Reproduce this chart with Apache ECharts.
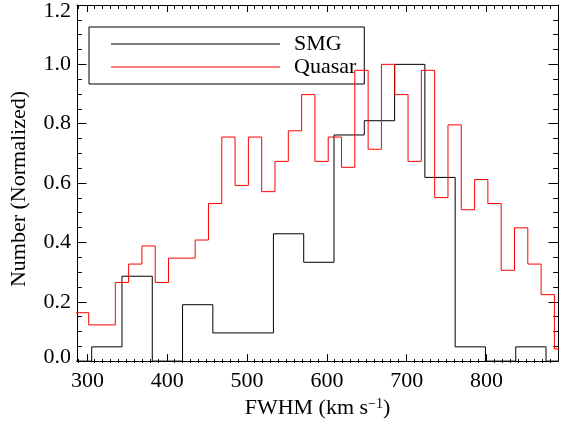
<!DOCTYPE html>
<html>
<head>
<meta charset="utf-8">
<script src="https://cdn.jsdelivr.net/npm/echarts@6/dist/echarts.min.js"></script>
<style>html,body{margin:0;padding:0;background:#fff;}#c{width:561px;height:424px;}</style>
</head>
<body>
<div id="c"></div>
<script>
// ---- data ----
const xMin = 287, xMax = 889.5;
const yMin = 0, yMax = 1.2, yStep = 0.2;
const xMajorTicks = [300, 400, 500, 600, 700, 800];
const xTitle = 'FWHM (km s{sup|\u22121})';
const yTitle = 'Number (Normalized)';
const seriesNames = ['SMG', 'Quasar'];

// SMG histogram: first bin left edge, bin width, normalized counts
const smgEdgeStart = 267.46;
const smgBinWidth = 37.94;
const smgValues = [0, 0.048, 0.286, 0, 0.19, 0.095, 0.095, 0.429, 0.333, 0.762, 0.81, 1.0, 0.619, 0.048, 0, 0.048, 0];

// Quasar histogram
const qsoEdgeStart = 285.0;
const qsoBinWidth = 16.667;
const qsoValues = [0.163, 0.122, 0.122, 0.265, 0.327, 0.388, 0.265, 0.347, 0.347, 0.408, 0.531, 0.755, 0.592, 0.755, 0.571, 0.673, 0.776, 0.898, 0.673, 0.755, 0.653, 0.98, 0.714, 1.0, 0.898, 0.673, 0.98, 0.551, 0.796, 0.51, 0.612, 0.531, 0.306, 0.449, 0.327, 0.224, 0.041];

// minor x ticks every 10 (not on majors)
const xMinorTicks = [];
for (let v = Math.ceil(xMin / 10) * 10; v <= xMax; v += 10) {
  if (v % 100 !== 0) xMinorTicks.push(v);
}

function stepData(start, width, values) {
  const pts = values.map((v, i) => [start + i * width, v]);
  pts.push([start + values.length * width, values[values.length - 1]]);
  return pts;
}

const FONT = 'Liberation Serif';
const black = '#000';
const gridRect = {left: 76, top: 5, width: 482, height: 358};

const chart = echarts.init(document.getElementById('c'), null, {renderer: 'canvas'});
const option = {
  animation: false,
  backgroundColor: '#fff',
  grid: [Object.assign({}, gridRect), Object.assign({}, gridRect)],
  legend: {
    left: 89, top: 27, orient: 'vertical',
    icon: 'rect',
    itemWidth: 169, itemHeight: 1, itemGap: 1,
    padding: [6, 8, 6, 22],
    borderColor: black, borderWidth: 1, borderRadius: 0,
    textStyle: {fontFamily: FONT, fontSize: 22, color: black, padding: [0, 0, 0, 9]},
    data: seriesNames
  },
  xAxis: [
    {
      gridIndex: 0, type: 'value', position: 'bottom', min: xMin, max: xMax,
      axisLine: {show: true, onZero: false, lineStyle: {color: black, width: 1}},
      axisTick: {show: true, inside: true, length: 7, customValues: xMajorTicks, lineStyle: {color: black, width: 1}},
      axisLabel: {show: true, customValues: xMajorTicks, fontFamily: FONT, fontSize: 22, color: black, margin: 9},
      splitLine: {show: false},
      name: xTitle, nameLocation: 'middle', nameGap: 34,
      nameTextStyle: {fontFamily: FONT, fontSize: 22, color: black,
        rich: {sup: {fontFamily: FONT, fontSize: 14, color: black, verticalAlign: 'top'}}}
    },
    {
      gridIndex: 0, type: 'value', position: 'top', min: xMin, max: xMax,
      axisLine: {show: true, onZero: false, lineStyle: {color: black, width: 1}},
      axisTick: {show: true, inside: true, length: 7, customValues: xMajorTicks, lineStyle: {color: black, width: 1}},
      axisLabel: {show: false},
      splitLine: {show: false}
    },
    {
      gridIndex: 1, type: 'value', position: 'bottom', min: xMin, max: xMax,
      axisLine: {show: false, onZero: false},
      axisTick: {show: true, inside: true, length: 4, customValues: xMinorTicks, lineStyle: {color: black, width: 1}},
      axisLabel: {show: false},
      splitLine: {show: false}
    },
    {
      gridIndex: 1, type: 'value', position: 'top', min: xMin, max: xMax,
      axisLine: {show: false, onZero: false},
      axisTick: {show: true, inside: true, length: 4, customValues: xMinorTicks, lineStyle: {color: black, width: 1}},
      axisLabel: {show: false},
      splitLine: {show: false}
    }
  ],
  yAxis: [
    {
      gridIndex: 0, type: 'value', position: 'left', min: yMin, max: yMax, interval: yStep,
      axisLine: {show: true, onZero: false, lineStyle: {color: black, width: 1}},
      axisTick: {show: true, inside: true, length: 9.5, lineStyle: {color: black, width: 1}},
      minorTick: {show: true, splitNumber: 4, length: 4.8, lineStyle: {color: black, width: 1}},
      axisLabel: {
        show: true, fontFamily: FONT, fontSize: 22, color: black, margin: 6,
        formatter: function (v) {
          const s = v.toFixed(1);
          if (Math.abs(v - yMin) < 1e-9) return '{lo|' + s + '}';
          if (Math.abs(v - yMax) < 1e-9) return '{hi|' + s + '}';
          return s;
        },
        rich: {
          lo: {fontFamily: FONT, fontSize: 22, color: black, padding: [0, 0, 8, 0]},
          hi: {fontFamily: FONT, fontSize: 22, color: black, padding: [12, 0, 0, 0]}
        }
      },
      splitLine: {show: false}, minorSplitLine: {show: false},
      name: yTitle, nameLocation: 'middle', nameGap: 47,
      nameTextStyle: {fontFamily: FONT, fontSize: 22, color: black, padding: [0, 12, 0, 0]}
    },
    {
      gridIndex: 0, type: 'value', position: 'right', min: yMin, max: yMax, interval: yStep,
      axisLine: {show: true, onZero: false, lineStyle: {color: black, width: 1}},
      axisTick: {show: true, inside: true, length: 9.5, lineStyle: {color: black, width: 1}},
      minorTick: {show: true, splitNumber: 4, length: 4.8, lineStyle: {color: black, width: 1}},
      axisLabel: {show: false},
      splitLine: {show: false}
    },
    {
      gridIndex: 1, type: 'value', min: yMin, max: yMax, show: false
    }
  ],
  series: [
    {
      name: seriesNames[0], type: 'line', xAxisIndex: 0, yAxisIndex: 0,
      step: 'end', symbol: 'none', showSymbol: false, clip: true,
      lineStyle: {color: black, width: 1}, itemStyle: {color: black},
      data: stepData(smgEdgeStart, smgBinWidth, smgValues), z: 3
    },
    {
      name: seriesNames[1], type: 'line', xAxisIndex: 0, yAxisIndex: 0,
      step: 'end', symbol: 'none', showSymbol: false, clip: true,
      lineStyle: {color: '#ff0000', width: 1}, itemStyle: {color: '#ff0000'},
      data: stepData(qsoEdgeStart, qsoBinWidth, qsoValues), z: 4
    }
  ]
};
chart.setOption(option);
</script>
</body>
</html>
